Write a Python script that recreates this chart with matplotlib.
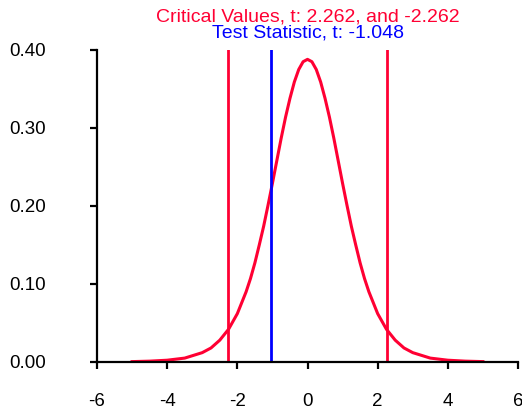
import matplotlib

matplotlib.use("Agg")
import matplotlib.pyplot as plt

# t density (df = 9), symmetric about 0
t_pos = [0.0, 0.125, 0.25, 0.375, 0.5, 0.625, 0.75, 0.875, 1.0, 1.125, 1.25,
         1.375, 1.5, 1.625, 1.75, 2.0, 2.25, 2.5, 2.75, 3.0, 3.5, 4.0, 4.5, 5.0]
dens_pos = [0.388, 0.385, 0.375, 0.359, 0.338, 0.314, 0.287, 0.258, 0.229,
            0.201, 0.174, 0.150, 0.127, 0.107, 0.090, 0.062, 0.042, 0.028,
            0.018, 0.012, 0.005, 0.0023, 0.0011, 0.0005]

t_vals = [-x for x in t_pos[:0:-1]] + t_pos
dens = dens_pos[:0:-1] + dens_pos

crit = [-2.262, 2.262]
test_stat = -1.048
line_top = 0.40

x_ticks = [-6, -4, -2, 0, 2, 4, 6]
y_ticks = [0.0, 0.1, 0.2, 0.3, 0.4]

RED = "#ff0033"
BLUE = "#0000ff"

plt.rcParams["font.family"] = ["Liberation Sans", "DejaVu Sans"]
plt.rcParams["axes.unicode_minus"] = False

fig = plt.figure(figsize=(5.22, 4.09), dpi=100)
ax = fig.add_axes([97 / 522, 47 / 409, 421 / 522, 312 / 409])

ax.plot(t_vals, dens, color=RED, lw=2.2, solid_joinstyle="round")
for c in crit:
    ax.plot([c, c], [0, line_top], color=RED, lw=2.0)
ax.plot([test_stat, test_stat], [0, line_top], color=BLUE, lw=2.0)

ax.set_xlim(-6, 6)
ax.set_ylim(0, 0.40)
ax.set_xticks(x_ticks)
ax.set_yticks(y_ticks)
ax.set_yticklabels([f"{v:.2f}" for v in y_ticks])

for side in ("top", "right"):
    ax.spines[side].set_visible(False)
for side in ("left", "bottom"):
    ax.spines[side].set_linewidth(1.6)
ax.spines["left"].set_bounds(0, 0.40)

ax.tick_params(axis="x", direction="out", length=5, width=1.6, pad=17, labelsize=13.5)
ax.tick_params(axis="y", direction="out", length=5, width=1.6, pad=32, labelsize=13.5)

ax.text(0.5, 1 + 33 / 312, "Critical Values, t: 2.262, and -2.262",
        transform=ax.transAxes, ha="center", va="center", color=RED, fontsize=14)
ax.text(0.5, 1 + 17 / 312, "Test Statistic, t: -1.048",
        transform=ax.transAxes, ha="center", va="center", color=BLUE, fontsize=14)

fig.savefig("out.png", dpi=100)
